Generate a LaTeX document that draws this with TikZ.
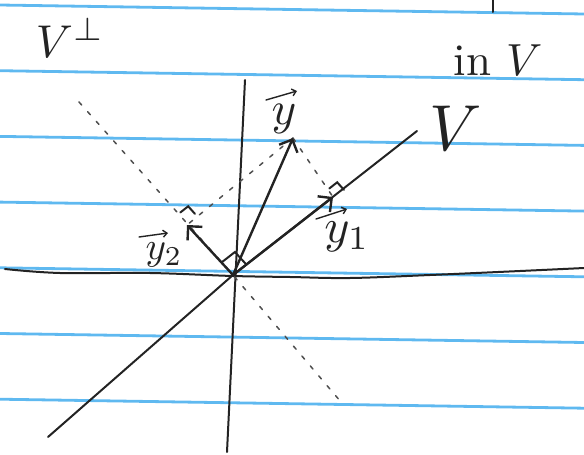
\documentclass[tikz,border=0pt]{standalone}
\usepackage{amsmath}
\usepackage{amssymb}
\usetikzlibrary{
    arrows.meta,
    calc
}

\definecolor{paperblue}{RGB}{95,185,240}
\definecolor{pen}{RGB}{35,35,35}

\begin{document}
\begin{tikzpicture}[x=1pt,y=-1pt,line cap=round,
    pen/.style={draw=pen,line width=2pt},
    vec/.style={pen,line width=2.4pt,-{Straight Barb[length=10pt,width=20pt]}},
    hat/.style={pen,line width=1.4pt,-{Straight Barb[length=4pt,width=7pt]}},
    guess/.style={draw=pen!80,line width=1.5pt,dash pattern=on 4pt off 9pt},
    lbl/.style={text=pen,inner sep=0pt,transform shape}]

\useasboundingbox (0,0) rectangle (584,455);

% Paper
\foreach \y in {5,70.7,136.4,202.1,267.8,333.5,399.2}{
    \draw[paperblue,line width=2.8pt] (0,\y) -- (584,\y+9);
}

\coordinate (O) at (233,275);
\coordinate (Vlow) at (48,437);
\coordinate (Vhigh) at (417,131);
\coordinate (Phigh) at (79,102);
\coordinate (Plow) at (341,402);
\coordinate (Ytop) at (245,80);
\coordinate (Ybot) at (227,452);
\coordinate (ytip) at (293,138);
\coordinate (yone) at (333,197);
\coordinate (ytwo) at (187,225);

% Axes
\draw[pen] plot[smooth,tension=0.6] coordinates
    {(5,269) (60,273) (150,273) (233,276) (290,277)
     (350,278) (430,275) (520,271) (584,268)};
\draw[pen] (Ytop) -- (Ybot);
\draw[pen] (493,0) -- (493,12);

% V and its complement
\draw[pen] (Vlow) -- (O) -- (Vhigh);
\draw[guess] (Phigh) -- (O) -- (Plow);

% Projections
\draw[guess] (ytip) -- (yone);
\draw[guess] (ytip) -- (ytwo);

\draw[vec] (O) -- (ytip);
\draw[vec] (O) -- (yone);
\draw[vec] (O) -- (ytwo);

% Right angles
\coordinate (a1) at ($(O)!17pt!(ytwo)$);
\coordinate (a2) at ($(O)!17pt!(yone)$);
\draw[pen] (a1) -- ($(a1)+(a2)-(O)$) -- (a2);

\coordinate (fone) at (336,196);
\coordinate (b1) at ($(fone)+(7.9,-6.2)$);
\coordinate (b2) at ($(fone)+(-6.7,-7.5)$);
\draw[pen] (b1) -- ($(b1)+(b2)-(fone)$) -- (b2);

\coordinate (ftwo) at (187,220);
\coordinate (c1) at ($(ftwo)+(7.9,-6.2)$);
\coordinate (c2) at ($(ftwo)+(-6.7,-7.5)$);
\draw[pen] (c1) -- ($(c1)+(c2)-(ftwo)$) -- (c2);

% Labels
\node[lbl,scale=4.7] (ylab) at (284,119) {$y$};
\node[lbl,scale=4.8] (yonelab) at (347,237) {$y_1$};
\node[lbl,scale=3.9] (ytwolab) at (164,255) {$y_2$};
\draw[hat] (266,100) -- (297,91);
\draw[hat] (316,219) -- (347,209);
\draw[hat] (139,237) -- (168,233);

\node[lbl,scale=6.5] (Vlab) at (456,128) {$V$};
\node[lbl,scale=4.5] (inV) at (498,60) {in $V$};
\node[lbl,scale=4.6] (Vperp) at (70,38) {$V^{\perp}$};

\end{tikzpicture}
\end{document}
